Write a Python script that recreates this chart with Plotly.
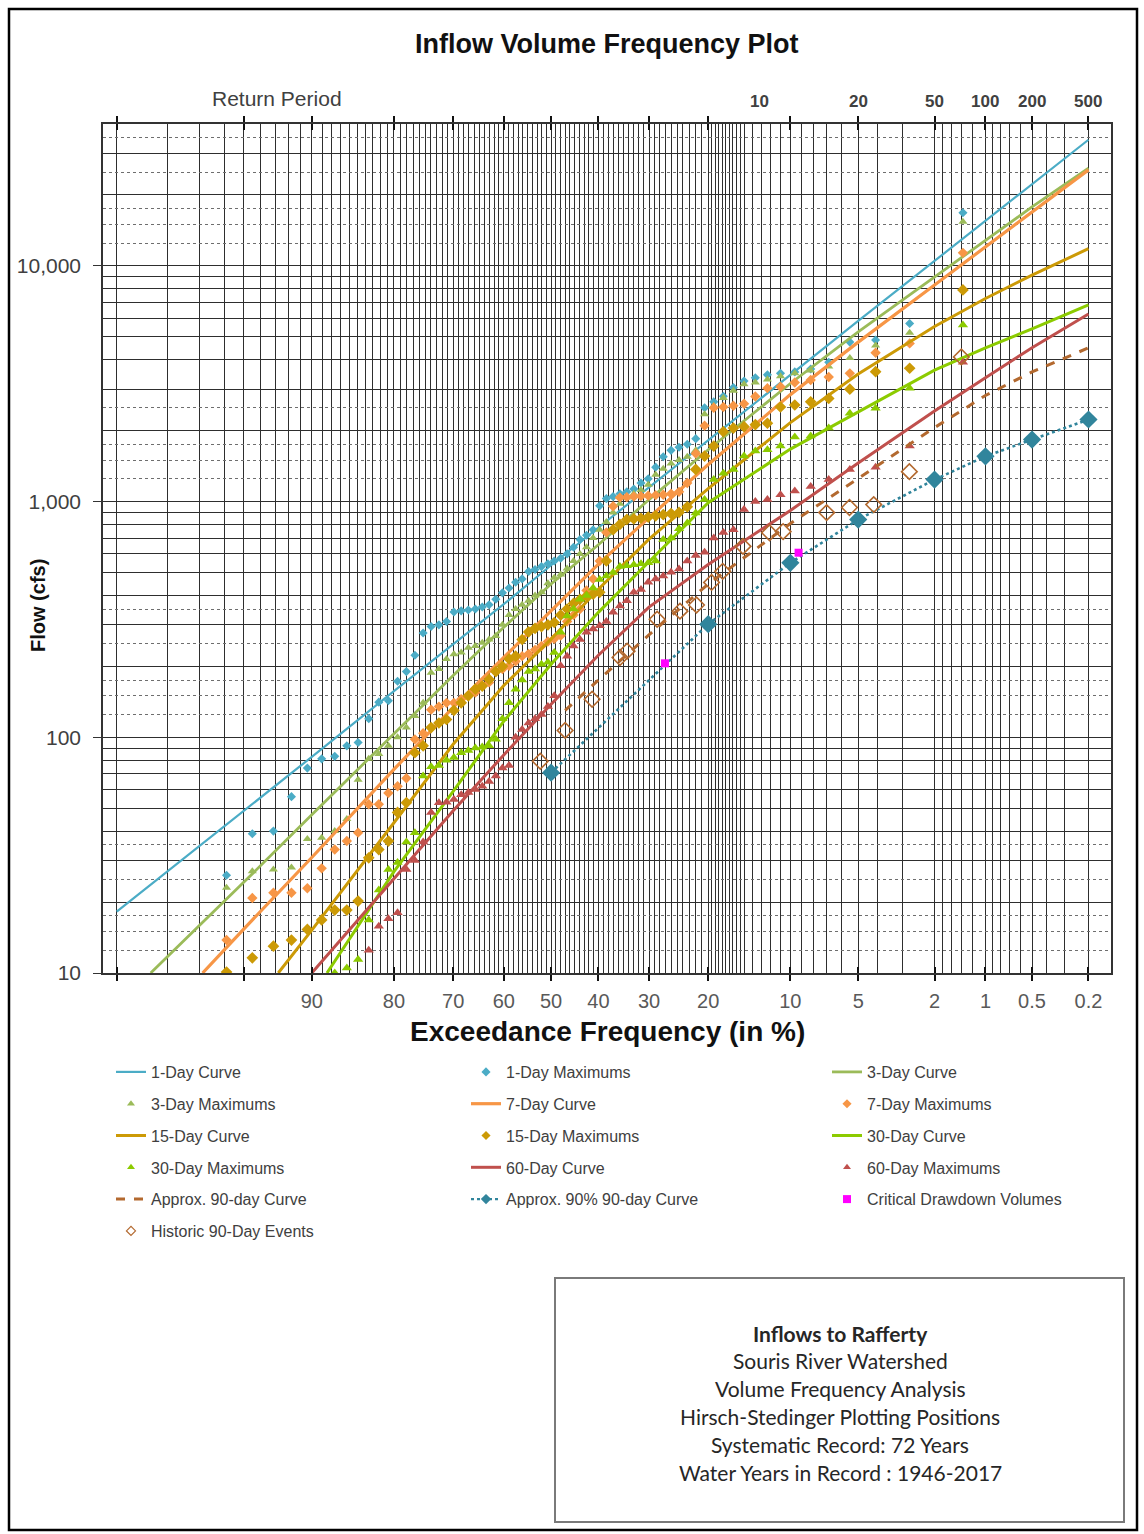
import math
from statistics import NormalDist
import plotly.graph_objects as go

# ---------------------------------------------------------------- data
# Fitted frequency curves: exceedance frequency (%) and flow (cfs)
EXC_1DAY_CURVE = [99, 95, 90, 80, 70, 60, 50, 40, 30, 20, 10, 5, 2, 1, 0.5, 0.2]
CURVE_1DAY = [18.2, 48.7, 82.6, 157, 248, 367, 537, 776, 1146, 1833, 3460, 5840, 10500, 15500, 22300, 34300]

EXC_3DAY_CURVE = [98.4, 95, 90, 80, 70, 60, 50, 40, 30, 20, 10, 5, 2, 1, 0.5, 0.2]
CURVE_3DAY = [10, 24.3, 46.9, 104, 183, 293, 447, 656, 1020, 1660, 3170, 5245, 8980, 12770, 17800, 26000]

EXC_7DAY_CURVE = [96.9, 95, 90, 80, 70, 60, 50, 40, 30, 20, 10, 5, 2, 1, 0.5, 0.2]
CURVE_7DAY = [10, 15.4, 30.9, 73.1, 134, 219, 343, 543, 855, 1436, 2844, 4750, 8300, 12040, 16790, 25550]

EXC_15DAY_CURVE = [92.8, 90, 80, 70, 60, 50, 40, 30, 20, 10, 5, 2, 1, 0.5, 0.2]
CURVE_15DAY = [10, 15.2, 43.4, 93.4, 166, 261, 425, 693, 1136, 2164, 3475, 5530, 7273, 9140, 11830]

EXC_30DAY_CURVE = [88.5, 80, 70, 60, 50, 40, 30, 20, 10, 5, 2, 1, 0.5, 0.2]
CURVE_30DAY = [10, 26.9, 59, 117, 204, 339, 556, 990, 1670, 2410, 3615, 4490, 5400, 6830]

EXC_60DAY_CURVE = [90, 80, 70, 60, 50, 40, 30, 20, 10, 5, 2, 1, 0.5, 0.2]
CURVE_60DAY = [10, 25.1, 48.8, 84.2, 138, 223, 357, 541, 917, 1459, 2425, 3355, 4497, 6250]

EXC_90DAY_CURVE = [47, 40, 30, 20, 10, 5, 2, 1, 0.5, 0.2]
CURVE_90DAY = [130, 175, 272, 447, 807, 1253, 2060, 2820, 3550, 4490]

EXC_90PCT_CURVE = [50, 20, 10, 5, 2, 1, 0.5, 0.2]
CURVE_90PCT = [70.8, 302, 550, 839, 1240, 1556, 1833, 2230]

EXC_CRITICAL = [27.1, 9.25]
CRITICAL = [206, 607]

EXC_HISTORIC = [52.3, 47.0, 41.3, 35.6, 34.2, 28.5, 24.5, 21.8, 19.5, 17.9, 15.2, 12.1, 10.7, 7.0, 5.5, 4.2, 2.75, 1.4]
HISTORIC = [79.1, 107, 145, 218, 232, 317, 343, 364, 454, 506, 646, 738, 746, 898, 944, 971, 1340, 4110]

# Plotting positions (exceedance %) of the ranked annual maximums, 72 years
EXC_PP = [1.37, 2.74, 4.11, 5.48, 6.85, 8.22, 9.59, 10.96, 12.33, 13.70, 15.07, 16.44,
          17.81, 19.18, 20.55, 21.92, 23.29, 24.66, 26.03, 27.40, 28.77, 30.14, 31.51, 32.88,
          34.25, 35.62, 36.99, 38.36, 39.73, 41.10, 42.47, 43.84, 45.21, 46.58, 47.95, 49.32,
          50.68, 52.05, 53.42, 54.79, 56.16, 57.53, 58.90, 60.27, 61.64, 63.01, 64.38, 65.75,
          67.12, 68.49, 69.86, 71.23, 72.60, 73.97, 75.34, 76.71, 78.08, 79.45, 80.82, 82.19,
          83.56, 84.93, 86.30, 87.67, 89.04, 90.41, 91.78, 93.15, 94.52, 95.89, 97.26, 98.63]

MAX_1DAY = [16800, 5700, 4850, 4750, 3900, 3650, 3550, 3500, 3450, 3350, 3250, 3050,
            2800, 2650, 2500, 1850, 1750, 1700, 1650, 1550, 1400, 1250, 1200, 1130,
            1100, 1080, 1050, 1030, 960, 760, 720, 690, 640, 600, 575, 560,
            545, 530, 515, 505, 470, 455, 430, 410, 385, 365, 357, 350,
            347, 344, 340, 310, 300, 295, 277, 223, 190, 173, 143, 141,
            120, 95, 92, 83, 81, 74, 56, 40, 39, 26, None, None]

MAX_3DAY = [15400, 5200, 4600, 4070, 3740, 3600, 3500, 3400, 3300, 3200, 3150, 2950,
            2750, 2550, 2350, 1650, 1550, 1500, 1450, 1380, 1300, 1180, 1120, 1080,
            1040, 980, 900, 820, 760, 700, 640, 600, 560, 520, 490, 475,
            450, 412, 400, 380, 365, 350, 330, 300, 269, 260, 252, 244,
            240, 229, 225, 215, 195, 188, 140, 123, 110, 100, 92, 85,
            81, 66, 45, 40, 37.5, 37, 28, 27.5, 27, 23, None, None]

MAX_7DAY = [11360, 4690, 4280, 3500, 3380, 3280, 3200, 3070, 3030, 2790, 2600, 2550,
            2520, 2500, 2100, 1600, 1200, 1100, 1080, 1070, 1065, 1060, 1055, 1050,
            1045, 1040, 955, 740, 560, 470, 420, 350, 330, 310, 270, 262,
            255, 244, 235, 226, 221, 210, 201, 195, 190, 171, 165, 155,
            150, 145, 140, 140, 135, 131, 104, 98, 67, 62, 58, 52,
            52, 39.4, 36.3, 33.4, 27.8, 22.9, 21.9, 21.9, 20.8, 13.8, None, None]

MAX_15DAY = [7910, 3680, 3560, 3000, 2740, 2650, 2570, 2520, 2150, 2120, 2080, 2050,
             1980, 1720, 1560, 1370, 950, 900, 890, 880, 870, 860, 850, 845,
             840, 800, 760, 560, 412, 405, 398, 385, 370, 350, 330, 307,
             300, 295, 290, 280, 260, 221, 215, 200, 190, 176, 165, 160,
             150, 140, 130, 119, 115, 110, 92, 86, 52.8, 48, 36.3, 33.4,
             30.8, 20.2, 18.5, 18.5, 16.8, 15.3, 13.8, 13, 11.6, 10.1, None, None]

MAX_30DAY = [5620, 3030, 2490, 2370, 2050, 1900, 1880, 1720, 1660, 1640, 1560, 1370,
             1320, 1240, 1020, 895, 812, 767, 700, 690, 560, 550, 545, 540,
             535, 530, 500, 483, 467, 430, 400, 385, 350, 327, 279, 229,
             208, 204, 195, 190, 175, 160, 140, 120, 98, 92, 91, 90,
             88, 86, 82, 80, 76, 75, 68.5, 39.4, 36, 29.4, 27.5, 22.5,
             16.8, 11.4, 10.5, 10, None, None, None, None, None, None, None, None]

MAX_60DAY = [3900, 1720, 1400, 1370, 1240, 1160, 1110, 1070, 1020, 1000, 925, 760,
             740, 700, 610, 590, 560, 518, 502, 484, 470, 455, 424, 412,
             380, 361, 339, 310, 297, 288, 279, 260, 244, 221, 201, 150,
             135, 125, 120, 115, 108, 100, 76, 74, 68.5, 65, 62, 60,
             58.3, 57, 54.5, 53, 52.8, 48, 36, 30, 27.5, 18, 17, 15.8,
             12.5, None, None, None, None, None, None, None, None, None, None, None]

# axis tick labels
X_TICK_EXC = [99, 95, 90, 80, 70, 60, 50, 40, 30, 20, 10, 5, 2, 1, 0.5, 0.2]
X_TICK_TEXT = ['', '', '90', '80', '70', '60', '50', '40', '30', '20', '10', '5', '2', '1', '0.5', '0.2']
Y_TICK_VALS = [10, 100, 1000, 10000]
Y_TICK_TEXT = ['10', '100', '1,000', '10,000']
RP_TEXT = ['10', '20', '50', '100', '200', '500']
RP_EXC = [13.2, 5, 2, 1, 0.5, 0.2]

# ---------------------------------------------------------------- helpers
ND = NormalDist()


def zt(p):
    """exceedance % -> standard normal variate (probability paper)"""
    return ND.inv_cdf(1.0 - p / 100.0)


def zlist(ps):
    return [zt(p) for p in ps]


W, H = 1144, 1534
L, R, T, B = 103, 1111, 124, 973


def pxx(px):
    return (px - L) / (R - L)


def pxy(py):
    return (B - py) / (B - T)


FONT = 'Liberation Sans, Arial, Helvetica, sans-serif'
C1, C3, C7, C15, C30, C60 = '#4BACC6', '#9BBB59', '#F79646', '#CC9A06', '#8CCB00', '#C0504D'
C90, C90P, CCRIT = '#B3692F', '#31859C', '#FF00FF'

fig = go.Figure()


def legend_entry(name, legend, mode, color, symbol=None, size=7, lw=0, width=3, dash='solid'):
    """legend-only trace (keeps legend symbols small like the reference)"""
    kw = dict(x=[None], y=[None], mode=mode, name=name, legend=legend, legendgroup=name,
              showlegend=True, hoverinfo='skip')
    if 'lines' in mode:
        kw['line'] = dict(color=color, width=width, dash=dash)
    if 'markers' in mode:
        kw['marker'] = dict(color=color, symbol=symbol, size=size, line=dict(color=color, width=lw))
    fig.add_trace(go.Scatter(**kw))


def curve(name, exc, vals, color, width, legend, dash='solid'):
    fig.add_trace(go.Scatter(x=zlist(exc), y=vals, mode='lines', name=name,
                             line=dict(color=color, width=width, dash=dash),
                             legend=legend, legendgroup=name, hoverinfo='skip'))


def points(name, exc, vals, color, symbol, size, legend, lw=0, leg_size=7):
    fig.add_trace(go.Scatter(x=zlist(exc), y=vals, mode='markers', name=name,
                             marker=dict(color=color, symbol=symbol, size=size,
                                         line=dict(color=color, width=lw)),
                             showlegend=False, legendgroup=name, hoverinfo='skip'))
    legend_entry(name, legend, 'markers', color, symbol, leg_size, lw=min(lw, 1.2))


curve('1-Day Curve', EXC_1DAY_CURVE, CURVE_1DAY, C1, 2.2, 'legend')
points('1-Day Maximums', EXC_PP, MAX_1DAY, C1, 'diamond', 7, 'legend2', leg_size=7)
curve('3-Day Curve', EXC_3DAY_CURVE, CURVE_3DAY, C3, 2.8, 'legend3')
points('3-Day Maximums', EXC_PP, MAX_3DAY, C3, 'triangle-up', 8, 'legend', leg_size=7)
curve('7-Day Curve', EXC_7DAY_CURVE, CURVE_7DAY, C7, 3.2, 'legend2')
points('7-Day Maximums', EXC_PP, MAX_7DAY, C7, 'diamond', 8, 'legend3', leg_size=7)
curve('15-Day Curve', EXC_15DAY_CURVE, CURVE_15DAY, C15, 3.0, 'legend')
points('15-Day Maximums', EXC_PP, MAX_15DAY, C15, 'diamond', 9, 'legend2', leg_size=7)
curve('30-Day Curve', EXC_30DAY_CURVE, CURVE_30DAY, C30, 3.0, 'legend3')
points('30-Day Maximums', EXC_PP, MAX_30DAY, C30, 'triangle-up', 9, 'legend', leg_size=7)
curve('60-Day Curve', EXC_60DAY_CURVE, CURVE_60DAY, C60, 3.0, 'legend2')
points('60-Day Maximums', EXC_PP, MAX_60DAY, C60, 'triangle-up', 9, 'legend3', leg_size=7)
curve('Approx. 90-day Curve', EXC_90DAY_CURVE, CURVE_90DAY, C90, 3.0, 'legend', dash='dash')
fig.add_trace(go.Scatter(x=zlist(EXC_90PCT_CURVE), y=CURVE_90PCT, mode='lines+markers',
                         name='Approx. 90% 90-day Curve',
                         line=dict(color=C90P, width=2.6, dash='dot'),
                         marker=dict(symbol='diamond', size=14, color=C90P),
                         showlegend=False, legendgroup='p90', hoverinfo='skip'))
legend_entry('Approx. 90% 90-day Curve', 'legend2', 'lines+markers', C90P, 'diamond', 8,
             width=2.4, dash='dot')
points('Critical Drawdown Volumes', EXC_CRITICAL, CRITICAL, CCRIT, 'square', 8, 'legend3', leg_size=8)
points('Historic 90-Day Events', EXC_HISTORIC, HISTORIC, C90, 'diamond-open', 12, 'legend', lw=1.6,
       leg_size=7)

# dummy traces so that the overlay axes (crossing ticks / dashed grid) are drawn
fig.add_trace(go.Scatter(x=[None], y=[None], xaxis='x2', yaxis='y', showlegend=False, hoverinfo='skip'))
fig.add_trace(go.Scatter(x=[None], y=[None], xaxis='x', yaxis='y2', showlegend=False, hoverinfo='skip'))

# ---------------------------------------------------------------- grid definitions (styling)
minor_x = ([98, 97, 96, 94, 93, 92, 91]
           + [p for p in range(89, 20, -1) if p % 10 != 0]
           + [19.5, 19, 18.5, 18, 17.5, 17, 16.5, 16, 15.5, 15, 14, 13, 12, 11]
           + [9, 8, 7, 6, 4, 3, 1.8, 1.6, 1.4, 1.2, 0.9, 0.8, 0.7, 0.6, 0.4, 0.3])
solid_y = [m * d for d in (10, 100, 1000) for m in range(2, 10)] + [20000, 30000]
dashed_y = [12.5, 15, 17.5, 25, 35, 125, 150, 175, 250, 350,
            1250, 1500, 1750, 2500, 12500, 15000, 17500, 25000, 35000]

XMIN = zt(99) - (116.7 - L) / 186.6
XMAX = zt(0.2) + (R - 1088.5) / 186.6
YR = [1, math.log10(40000)]
GRID = '#2e2e2e'

fig.update_layout(
    width=W, height=H,
    margin=dict(l=L, r=W - R, t=T, b=H - B, autoexpand=False),
    paper_bgcolor='white', plot_bgcolor='white',
    font=dict(family=FONT, color='#404040'),
    showlegend=True,
    xaxis=dict(range=[XMIN, XMAX], tickmode='array', tickvals=zlist(X_TICK_EXC), ticktext=X_TICK_TEXT,
               showgrid=True, gridcolor=GRID, gridwidth=1.2, zeroline=False,
               ticks='outside', ticklen=6, tickwidth=1.6, tickcolor='#111111',
               showline=True, linecolor='#333333', linewidth=1.5, mirror='ticks',
               tickfont=dict(size=20, color='#595959', family=FONT), ticklabelstandoff=3,
               minor=dict(tickmode='array', tickvals=zlist(minor_x), showgrid=True,
                          gridcolor=GRID, gridwidth=1.2, ticks='')),
    xaxis2=dict(overlaying='x', anchor='y', side='bottom', range=[XMIN, XMAX], tickmode='array',
                tickvals=zlist(X_TICK_EXC), showticklabels=False, showgrid=False, zeroline=False,
                ticks='inside', ticklen=6, tickwidth=1.6, tickcolor='#111111',
                showline=True, linecolor='#333333', linewidth=1.5, mirror='ticks'),
    yaxis=dict(type='log', range=YR, tickmode='array', tickvals=Y_TICK_VALS, ticktext=Y_TICK_TEXT,
               showgrid=True, gridcolor=GRID, gridwidth=1.3, zeroline=False,
               ticks='outside', ticklen=8, tickwidth=1.2, tickcolor='#333333',
               showline=True, linecolor='#333333', linewidth=1.5, mirror=True,
               tickfont=dict(size=21, color='#404040', family=FONT), ticklabelstandoff=8,
               minor=dict(tickmode='array', tickvals=solid_y, showgrid=True,
                          gridcolor=GRID, gridwidth=1.3, ticks='')),
    yaxis2=dict(type='log', overlaying='y', anchor='x', side='left', range=YR, tickmode='array',
                tickvals=dashed_y, showticklabels=False, ticks='', showline=False,
                showgrid=True, gridcolor='#6e6e6e', gridwidth=1.3, griddash='3px,3px', zeroline=False),
)

leg_common = dict(xref='container', yref='container', xanchor='left', yanchor='top',
                  orientation='v', traceorder='grouped', tracegroupgap=8,
                  bgcolor='rgba(0,0,0,0)', borderwidth=0,
                  font=dict(size=16, color='#404040', family=FONT))
fig.update_layout(
    legend=dict(x=111 / W, y=1 - 1055 / H, **leg_common),
    legend2=dict(x=466 / W, y=1 - 1055 / H, **leg_common),
    legend3=dict(x=827 / W, y=1 - 1055 / H, **leg_common),
)

ann = []
ann.append(dict(text='<b>Inflow Volume Frequency Plot</b>', x=pxx(607), y=pxy(44), xref='paper', yref='paper',
                showarrow=False, xanchor='center', yanchor='middle',
                font=dict(size=27, color='#111111', family=FONT)))
ann.append(dict(text='Return Period', x=pxx(277), y=pxy(98), xref='paper', yref='paper',
                showarrow=False, xanchor='center', yanchor='middle',
                font=dict(size=21, color='#404040', family=FONT)))
for t, p in zip(RP_TEXT, RP_EXC):
    ann.append(dict(text='<b>' + t + '</b>', x=zt(p), y=pxy(101), xref='x', yref='paper',
                    showarrow=False, xanchor='center', yanchor='middle',
                    font=dict(size=17, color='#404040', family=FONT)))
ann.append(dict(text='<b>Exceedance Frequency (in %)</b>', x=pxx(607), y=pxy(1031), xref='paper', yref='paper',
                showarrow=False, xanchor='center', yanchor='middle',
                font=dict(size=28, color='#111111', family=FONT)))
ann.append(dict(text='<b>Flow (cfs)</b>', x=pxx(38), y=pxy(606), xref='paper', yref='paper',
                showarrow=False, xanchor='center', yanchor='middle', textangle=-90,
                font=dict(size=20, color='#111111', family=FONT)))
box_lines = ['<b>Inflows to Rafferty</b>', 'Souris River Watershed', 'Volume Frequency Analysis',
             'Hirsch-Stedinger Plotting Positions', 'Systematic Record: 72 Years',
             'Water Years in Record : 1946-2017']
for k, t in enumerate(box_lines):
    ann.append(dict(text=t, x=pxx(840), y=pxy(1333 + 27.8 * k), xref='paper', yref='paper',
                    showarrow=False, xanchor='center', yanchor='middle',
                    font=dict(size=21, color='#262626', family='Lato, Carlito, sans-serif')))
fig.update_layout(annotations=ann)

fig.update_layout(shapes=[
    dict(type='rect', xref='paper', yref='paper', x0=pxx(9), x1=pxx(1137), y0=pxy(9), y1=pxy(1530),
         line=dict(color='#000000', width=2.5), fillcolor='rgba(0,0,0,0)', layer='above'),
    dict(type='rect', xref='paper', yref='paper', x0=pxx(555), x1=pxx(1124), y0=pxy(1278), y1=pxy(1522),
         line=dict(color='#7a7a7a', width=2), fillcolor='rgba(0,0,0,0)', layer='above'),
])

fig.write_html('out.html', config={'displayModeBar': False},
               post_script="document.body.style.margin='0px';document.body.style.padding='0px';")
